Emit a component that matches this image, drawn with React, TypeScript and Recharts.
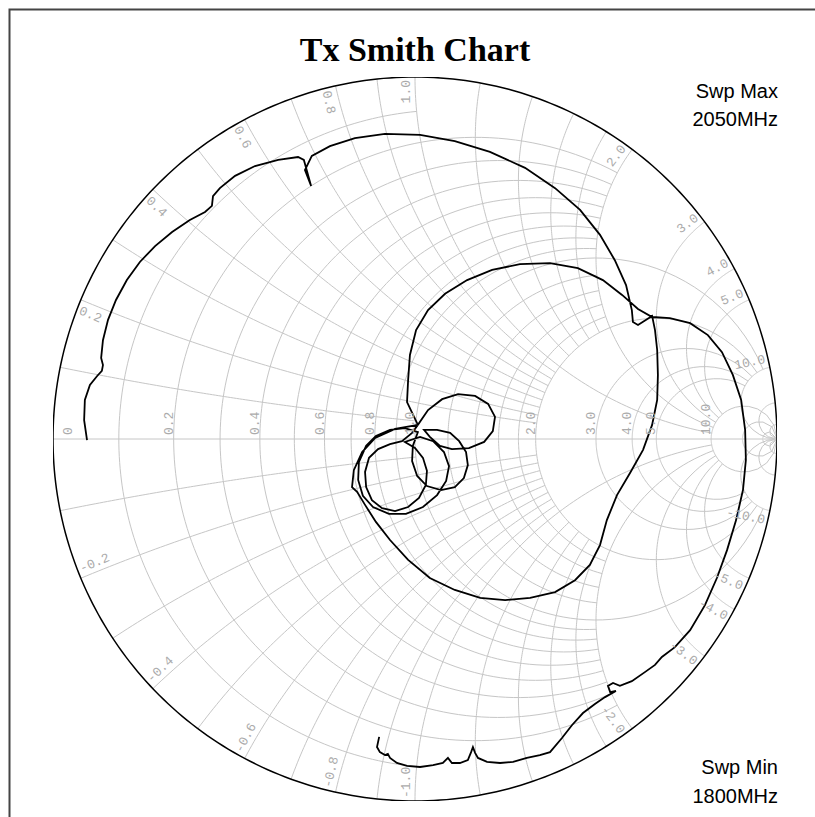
import React, { useLayoutEffect } from 'react';
import { LineChart, Line, XAxis, YAxis } from 'recharts';

// grid values of the Smith chart (resistance circles and reactance arcs)
const GRID_VALUES = [0.1, 0.2, 0.3, 0.4, 0.5, 0.6, 0.7, 0.8, 0.9, 1.0, 1.2, 1.4, 1.6, 1.8, 2.0, 3.0, 4.0, 5.0, 10, 20, 50];
const R_LABELS = [0, 0.2, 0.4, 0.6, 0.8, 1.0, 2.0, 3.0, 4.0, 5.0, 10.0];
const X_LABELS = [0.2, 0.4, 0.6, 0.8, 1.0, 2.0, 3.0, 4.0, 5.0, 10.0];

const traceRe = [
  -0.906, -0.914, -0.912, -0.898, -0.878, -0.865, -0.862, -0.867, -0.862, -0.848,
  -0.826, -0.796, -0.76, -0.718, -0.671, -0.622, -0.58, -0.561, -0.558, -0.539,
  -0.497, -0.442, -0.378, -0.323, -0.307, -0.287, -0.304, -0.285, -0.235, -0.166,
  -0.083, 0.014, 0.11, 0.207, 0.304, 0.387, 0.456, 0.511, 0.552, 0.583,
  0.599, 0.602, 0.616, 0.655, 0.663, 0.669, 0.671, 0.669, 0.655, 0.63,
  0.594, 0.558, 0.53, 0.511, 0.483, 0.442, 0.387, 0.318, 0.249, 0.18,
  0.11, 0.041, -0.019, -0.069, -0.108, -0.138, -0.16, -0.174, -0.169, -0.146,
  -0.11, -0.055, 0.008, 0.036, 0.075, 0.119, 0.166, 0.202, 0.221, 0.215,
  0.191, 0.149, 0.102, 0.069, 0.041, 0.025, 0.061, 0.097, 0.122, 0.141,
  0.146, 0.135, 0.11, 0.072, 0.033, 0.006, -0.008, -0.006, 0.008, -0.028,
  -0.069, -0.108, -0.135, -0.155, -0.157, -0.144, -0.116, -0.072, -0.025, 0.022,
  0.061, 0.086, 0.094, 0.08, 0.05, 0.014, -0.028, 0.0, 0.022, 0.033,
  0.03, 0.011, -0.019, -0.055, -0.091, -0.119, -0.135, -0.138, -0.127, -0.102,
  -0.069, -0.036, -0.008, 0.008, -0.022, -0.019, -0.014, 0.003, 0.036, 0.083,
  0.144, 0.213, 0.29, 0.373, 0.45, 0.519, 0.572, 0.616, 0.655, 0.704,
  0.76, 0.809, 0.848, 0.878, 0.901, 0.912, 0.914, 0.906, 0.887, 0.862,
  0.834, 0.801, 0.76, 0.718, 0.682, 0.663, 0.635, 0.599, 0.566, 0.547,
  0.533, 0.539, 0.555, 0.525, 0.497, 0.464, 0.434, 0.406, 0.373, 0.345,
  0.309, 0.271, 0.235, 0.199, 0.174, 0.166, 0.16, 0.155, 0.146, 0.124,
  0.102, 0.091, 0.077, 0.05, 0.014, -0.022, -0.05, -0.069, -0.075, -0.083,
  -0.097, -0.105, -0.099,
];
const traceIm = [
  -0.003, 0.052, 0.108, 0.149, 0.174, 0.188, 0.204, 0.224, 0.273, 0.329,
  0.384, 0.439, 0.489, 0.533, 0.572, 0.605, 0.627, 0.644, 0.671, 0.693,
  0.727, 0.754, 0.771, 0.779, 0.771, 0.699, 0.743, 0.782, 0.809, 0.831,
  0.843, 0.84, 0.823, 0.793, 0.749, 0.693, 0.633, 0.564, 0.494, 0.425,
  0.356, 0.323, 0.315, 0.34, 0.301, 0.246, 0.177, 0.108, 0.039, -0.03,
  -0.094, -0.155, -0.224, -0.293, -0.348, -0.39, -0.423, -0.439, -0.445, -0.439,
  -0.417, -0.384, -0.334, -0.279, -0.229, -0.182, -0.146, -0.133, -0.086, -0.036,
  0.003, 0.028, 0.039, 0.08, 0.11, 0.124, 0.119, 0.097, 0.061, 0.022,
  -0.008, -0.025, -0.028, -0.019, 0.006, 0.025, 0.025, 0.017, -0.006, -0.036,
  -0.072, -0.108, -0.133, -0.141, -0.13, -0.102, -0.061, -0.019, 0.019, 0.03,
  0.025, 0.008, -0.019, -0.064, -0.113, -0.157, -0.188, -0.207, -0.207, -0.188,
  -0.155, -0.116, -0.075, -0.036, -0.006, 0.006, -0.008, -0.025, -0.052, -0.088,
  -0.127, -0.163, -0.188, -0.199, -0.191, -0.169, -0.133, -0.091, -0.052, -0.028,
  -0.014, -0.006, 0.017, 0.039, 0.102, 0.163, 0.232, 0.301, 0.356, 0.401,
  0.439, 0.467, 0.483, 0.486, 0.472, 0.439, 0.398, 0.359, 0.337, 0.334,
  0.32, 0.287, 0.24, 0.177, 0.108, 0.025, -0.058, -0.141, -0.224, -0.307,
  -0.384, -0.459, -0.528, -0.575, -0.602, -0.624, -0.644, -0.669, -0.682, -0.674,
  -0.682, -0.699, -0.696, -0.713, -0.732, -0.757, -0.79, -0.826, -0.865, -0.873,
  -0.881, -0.892, -0.895, -0.892, -0.881, -0.867, -0.851, -0.865, -0.887, -0.895,
  -0.895, -0.881, -0.895, -0.901, -0.906, -0.903, -0.895, -0.881, -0.87, -0.873,
  -0.865, -0.851, -0.823,
];

const GRID = '#c6c6c6';
const LABEL = '#ababab';

const gam = (r: number, x: number) => {
  const d = (r + 1) * (r + 1) + x * x;
  return { re: (r * r + x * x - 1) / d, im: (2 * x) / d };
};

// how far each grid line runs along the other coordinate
const reach = (v: number) => (v < 0.15 ? 1 : v < 1 ? 2 : v === 1 ? 10 : v < 2 ? 2 : v <= 5 ? 10 : Infinity);

const rArc = (r: number, lim: number, n = 160) => {
  const t0 = Math.atan(lim);
  const pts = [];
  for (let i = 0; i <= n; i++) pts.push(gam(r, Math.tan(-t0 + (2 * t0 * i) / n)));
  return pts;
};

const xArc = (x: number, lim: number, n = 120) => {
  const s0 = Math.atan(lim);
  const pts = [];
  for (let i = 0; i <= n; i++) pts.push(gam(Math.tan((s0 * i) / n), x));
  return pts;
};

const gridLines: { key: string; pts: { re: number; im: number }[] }[] = [];
GRID_VALUES.forEach((v) => {
  gridLines.push({ key: `r${v}`, pts: rArc(v, reach(v)) });
  gridLines.push({ key: `x${v}`, pts: xArc(v, reach(v)) });
  gridLines.push({ key: `x-${v}`, pts: xArc(-v, reach(v)) });
});
const axisLine = [{ re: -1, im: 0 }, { re: 1, im: 0 }];
const outerCircle = rArc(0, Infinity, 360);

const labelData = [
  ...R_LABELS.map((r) => ({ ...gam(r, 0), text: r === 0 ? '0' : r.toFixed(1), kind: 'r', v: r })),
  ...X_LABELS.flatMap((x) => [
    { ...gam(0, x), text: x.toFixed(1), kind: 'x', v: x },
    { ...gam(0, -x), text: '-' + x.toFixed(1), kind: 'x', v: -x },
  ]),
];

const traceData = traceRe.map((re, i) => ({ re, im: traceIm[i] }));

const renderLabel = (props: any) => {
  const { cx, cy, payload, index } = props;
  const font = { fontFamily: '"Liberation Mono", "DejaVu Sans Mono", monospace', fontSize: 13, fill: LABEL };
  if (payload.kind === 'r') {
    const bx = payload.v === 0 ? cx + 19 : cx - 1;
    const by = cy - 4;
    return (
      <text key={`l${index}`} x={bx} y={by} transform={`rotate(-90 ${bx} ${by})`} textAnchor="start" {...font}>
        {payload.text}
      </text>
    );
  }
  // outward direction in screen coordinates
  const a = Math.atan2(-payload.im, payload.re);
  const deg = (a * 180) / Math.PI;
  const keep = deg >= -90 && deg < 90;
  const beta = keep ? deg : deg >= 90 ? deg - 180 : deg + 180;
  const b = (beta * Math.PI) / 180;
  // label sits on the side of the arc towards smaller |x|
  const th = Math.atan2(payload.im, payload.re);
  const sgn = payload.v > 0 ? 1 : -1;
  const dx = -Math.sin(th) * sgn;
  const dy = -Math.cos(th) * sgn;
  const ux = Math.sin(b);
  const uy = -Math.cos(b);
  const shift = ux * dx + uy * dy > 0 ? 5 : 14;
  const px = cx - 3 * Math.cos(a) + shift * dx;
  const py = cy - 3 * Math.sin(a) + shift * dy;
  return (
    <text key={`l${index}`} x={px} y={py} transform={`rotate(${beta} ${px} ${py})`} textAnchor={keep ? 'end' : 'start'} {...font}>
      {payload.text}
    </text>
  );
};

export default function App() {
  useLayoutEffect(() => {
    document.documentElement.style.overflow = 'hidden';
    document.body.style.overflow = 'hidden';
    document.body.style.margin = '0';
  }, []);
  return (
    <div style={{ position: 'fixed', left: 0, top: 0, width: 815, height: 817, overflow: 'hidden', background: '#fff' }}>
      <LineChart width={815} height={817} margin={{ top: 77, right: 38, bottom: 16, left: 53 }}>
        <XAxis dataKey="re" type="number" domain={[-1, 1]} allowDataOverflow hide />
        <YAxis dataKey="im" type="number" domain={[-1, 1]} allowDataOverflow hide />
        {gridLines.map((g) => (
          <Line key={g.key} data={g.pts} dataKey="im" type="linear" stroke={GRID} strokeWidth={1} dot={false} activeDot={false} isAnimationActive={false} />
        ))}
        <Line data={axisLine} dataKey="im" stroke={GRID} strokeWidth={1} dot={false} activeDot={false} isAnimationActive={false} />
        <Line data={labelData} dataKey="im" stroke="none" dot={renderLabel} activeDot={false} isAnimationActive={false} />
        <Line data={outerCircle} dataKey="im" stroke="#000" strokeWidth={1.5} dot={false} activeDot={false} isAnimationActive={false} />
        <Line data={traceData} dataKey="im" type="linear" stroke="#000" strokeWidth={1.8} dot={false} activeDot={false} isAnimationActive={false} />
      </LineChart>
      <svg width={815} height={817} style={{ position: 'absolute', left: 0, top: 0, pointerEvents: 'none' }}>
        <path d="M9.5 830 V9.5 H830" fill="none" stroke="#444" strokeWidth={2} />
        <text x={415} y={61} textAnchor="middle" fontFamily='"Liberation Serif", "Times New Roman", serif' fontWeight="bold" fontSize={34}>
          Tx Smith Chart
        </text>
        <g fontFamily='"Liberation Sans", Arial, sans-serif' fontSize={20} textAnchor="end">
          <text x={778} y={98}>Swp Max</text>
          <text x={778} y={126}>2050MHz</text>
          <text x={778} y={774}>Swp Min</text>
          <text x={778} y={803}>1800MHz</text>
        </g>
      </svg>
    </div>
  );
}
